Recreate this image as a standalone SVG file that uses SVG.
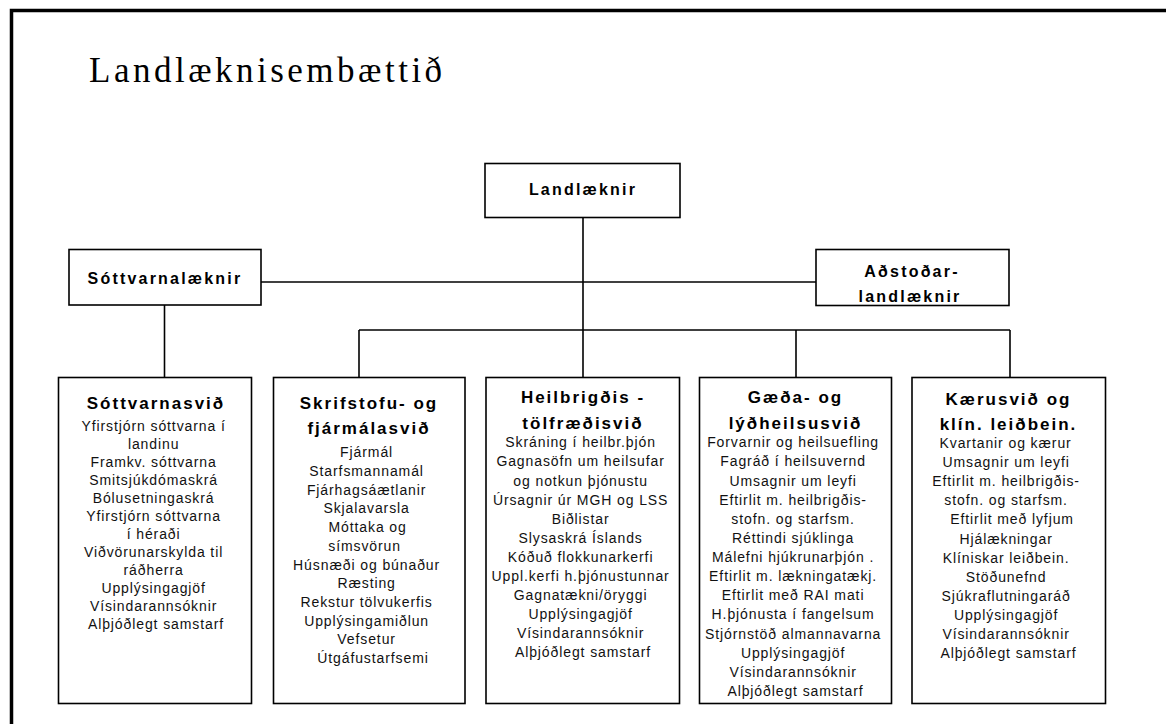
<svg xmlns="http://www.w3.org/2000/svg" width="1166" height="724" viewBox="0 0 1166 724">
<style>
.box{fill:#fff;stroke:#000;stroke-width:1.6}
.ln{fill:none;stroke:#000;stroke-width:1.6}
.hd{font-family:"Liberation Sans",Arial,sans-serif;font-weight:bold;font-size:17px;letter-spacing:2px;fill:#000;text-anchor:middle}
.it{font-family:"Liberation Sans",Arial,sans-serif;font-size:14px;letter-spacing:0.9px;fill:#111;text-anchor:middle}
.tp{font-family:"Liberation Sans",Arial,sans-serif;font-weight:bold;font-size:16px;letter-spacing:2.2px;fill:#000;text-anchor:middle}
.title{font-family:"Liberation Serif","Times New Roman",serif;font-size:35px;letter-spacing:3.5px;fill:#000}
</style>
<rect x="0" y="0" width="1166" height="724" fill="#fff"/>
<rect x="11.5" y="10.5" width="1200" height="800" fill="none" stroke="#000" stroke-width="3.5"/>
<text class="title" x="89" y="82">Landlæknisembættið</text>

<g id="connectors">
<line class="ln" x1="261" y1="282" x2="816" y2="282"/>
<line class="ln" x1="583" y1="218" x2="583" y2="377"/>
<line class="ln" x1="359" y1="330" x2="1010" y2="330"/>
<line class="ln" x1="359" y1="330" x2="359" y2="377"/>
<line class="ln" x1="796" y1="330" x2="796" y2="377"/>
<line class="ln" x1="1010" y1="330" x2="1010" y2="377"/>
<line class="ln" x1="164.5" y1="305" x2="164.5" y2="377"/>
</g>

<g id="landlaeknir">
<rect class="box" x="485" y="163.5" width="195" height="54"/>
<text class="tp" x="583" y="195">Landlæknir</text>
</g>

<g id="sottvarnalaeknir">
<rect class="box" x="69" y="249.5" width="192" height="55.5"/>
<text class="tp" x="165" y="284">Sóttvarnalæknir</text>
</g>

<g id="adstodarlandlaeknir">
<rect class="box" x="816" y="249.5" width="193" height="56"/>
<text class="tp" x="912" y="277">Aðstoðar-</text>
<text class="tp" x="910" y="301.5">landlæknir</text>
</g>

<g id="sottvarnasvid">
<rect class="box" x="58.5" y="377.5" width="193" height="326"/>
<text class="hd" x="156" y="409">Sóttvarnasvið</text>
<text class="it">
<tspan x="156" y="430.7">Yfirstjórn sóttvarna í</tspan>
<tspan x="156" y="448.7">landinu</tspan>
<tspan x="156" y="466.7">Framkv. sóttvarna</tspan>
<tspan x="156" y="484.7">Smitsjúkdómaskrá</tspan>
<tspan x="156" y="502.7">Bólusetningaskrá</tspan>
<tspan x="156" y="520.7">Yfirstjórn sóttvarna</tspan>
<tspan x="156" y="538.7">í héraði</tspan>
<tspan x="156" y="556.7">Viðvörunarskylda til</tspan>
<tspan x="156" y="574.7">ráðherra</tspan>
<tspan x="156" y="592.7">Upplýsingagjöf</tspan>
<tspan x="156" y="610.7">Vísindarannsóknir</tspan>
<tspan x="156" y="628.7">Alþjóðlegt samstarf</tspan>
</text>
</g>

<g id="skrifstofusvid">
<rect class="box" x="273.5" y="377.5" width="191.5" height="326"/>
<text class="hd" x="369" y="409">Skrifstofu- og</text>
<text class="hd" x="369" y="434.3">fjármálasvið</text>
<text class="it">
<tspan x="369" y="457.3">Fjármál</tspan>
<tspan x="369" y="476">Starfsmannamál</tspan>
<tspan x="369" y="494.7">Fjárhagsáætlanir</tspan>
<tspan x="369" y="513.4">Skjalavarsla</tspan>
<tspan x="370" y="532.1">Móttaka og</tspan>
<tspan x="367" y="550.8">símsvörun</tspan>
<tspan x="369" y="569.5">Húsnæði og búnaður</tspan>
<tspan x="369" y="588.2">Ræsting</tspan>
<tspan x="369" y="606.9">Rekstur tölvukerfis</tspan>
<tspan x="369" y="625.6">Upplýsingamiðlun</tspan>
<tspan x="369" y="644.3">Vefsetur</tspan>
<tspan x="373" y="663">Útgáfustarfsemi</tspan>
</text>
</g>

<g id="heilbrigdistolfraedisvid">
<rect class="box" x="486" y="377.5" width="193.5" height="326"/>
<text class="hd" x="583" y="402.7">Heilbrigðis -</text>
<text class="hd" x="583" y="429.3">tölfræðisvið</text>
<text class="it">
<tspan x="583" y="447.3">Skráning í heilbr.þjón</tspan>
<tspan x="583" y="466.4">Gagnasöfn um heilsufar</tspan>
<tspan x="583" y="485.5">og notkun þjónustu</tspan>
<tspan x="583" y="504.6">Úrsagnir úr MGH og LSS</tspan>
<tspan x="583" y="523.7">Biðlistar</tspan>
<tspan x="583" y="542.8">Slysaskrá Íslands</tspan>
<tspan x="583" y="561.9">Kóðuð flokkunarkerfi</tspan>
<tspan x="583" y="581">Uppl.kerfi h.þjónustunnar</tspan>
<tspan x="583" y="600.1">Gagnatækni/öryggi</tspan>
<tspan x="583" y="619.2">Upplýsingagjöf</tspan>
<tspan x="583" y="638.3">Vísindarannsóknir</tspan>
<tspan x="583" y="657.4">Alþjóðlegt samstarf</tspan>
</text>
</g>

<g id="gaedasvid">
<rect class="box" x="699.5" y="377.5" width="192" height="326"/>
<text class="hd" x="795.5" y="402.7">Gæða- og</text>
<text class="hd" x="795.5" y="429.3">lýðheilsusvið</text>
<text class="it">
<tspan x="795.5" y="447.3">Forvarnir og heilsuefling</tspan>
<tspan x="795.5" y="466.4">Fagráð í heilsuvernd</tspan>
<tspan x="795.5" y="485.5">Umsagnir um leyfi</tspan>
<tspan x="795.5" y="504.7">Eftirlit m. heilbrigðis-</tspan>
<tspan x="795.5" y="523.8">stofn. og starfsm.</tspan>
<tspan x="795.5" y="542.9">Réttindi sjúklinga</tspan>
<tspan x="795.5" y="562">Málefni hjúkrunarþjón .</tspan>
<tspan x="795.5" y="581.1">Eftirlit m. lækningatækj.</tspan>
<tspan x="795.5" y="600.3">Eftirlit með RAI mati</tspan>
<tspan x="795.5" y="619.4">H.þjónusta í fangelsum</tspan>
<tspan x="795.5" y="638.5">Stjórnstöð almannavarna</tspan>
<tspan x="795.5" y="657.6">Upplýsingagjöf</tspan>
<tspan x="795.5" y="676.7">Vísindarannsóknir</tspan>
<tspan x="795.5" y="695.9">Alþjóðlegt samstarf</tspan>
</text>
</g>

<g id="kaerusvid">
<rect class="box" x="912" y="377.5" width="193.5" height="326"/>
<text class="hd" x="1008.5" y="405">Kærusvið og</text>
<text class="hd" x="1008.5" y="430">klín. leiðbein.</text>
<text class="it">
<tspan x="1008" y="447.7">Kvartanir og kærur</tspan>
<tspan x="1008.5" y="466.9">Umsagnir um leyfi</tspan>
<tspan x="1008.5" y="486">Eftirlit m. heilbrigðis-</tspan>
<tspan x="1008.5" y="505.2">stofn. og starfsm.</tspan>
<tspan x="1014.5" y="524.3">Eftirlit með lyfjum</tspan>
<tspan x="1008.5" y="543.5">Hjálækningar</tspan>
<tspan x="1008.5" y="562.6">Klíniskar leiðbein.</tspan>
<tspan x="1008.5" y="581.8">Stöðunefnd</tspan>
<tspan x="1008.5" y="600.9">Sjúkraflutningaráð</tspan>
<tspan x="1008.5" y="620.1">Upplýsingagjöf</tspan>
<tspan x="1008.5" y="639.2">Vísindarannsóknir</tspan>
<tspan x="1008.5" y="658.4">Alþjóðlegt samstarf</tspan>
</text>
</g>
</svg>
